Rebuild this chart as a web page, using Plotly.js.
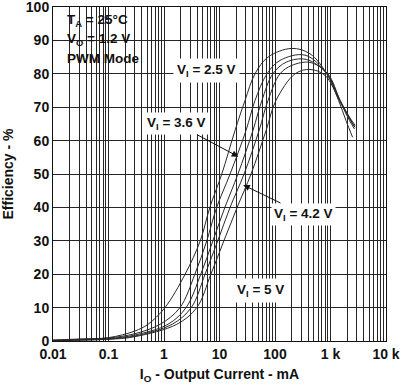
<!DOCTYPE html>
<html>
<head>
<meta charset="utf-8">
<script src="https://cdn.plot.ly/plotly-3.0.1.min.js"></script>
<style>
html,body{margin:0;padding:0;background:#fff;}
#chart{width:406px;height:390px;}
</style>
</head>
<body>
<div id="chart"></div>
<script>
// Series: output current (mA) and efficiency (%)
const seriesNames = ["VI = 2.5 V", "VI = 3.0 V", "VI = 3.6 V", "VI = 4.2 V", "VI = 5 V"];

const current1 = [0.01, 0.03, 0.1, 0.3, 0.515, 1.04, 2.4, 4.5, 6.7, 11, 19, 28.8, 43.6, 75, 200, 427, 860, 1400, 1900, 2500];
const eff1     = [0.3, 0.6, 1.0, 3.0, 5, 10, 20, 30, 40, 50, 63, 72, 80, 85, 87.6, 86, 80, 72, 66, 61];

const current2 = [0.01, 0.03, 0.1, 0.3, 0.85, 1.94, 3.6, 5.9, 8.9, 15.5, 30, 43.6, 71.8, 123, 347, 860, 1460, 2200, 2700];
const eff2     = [0.2, 0.5, 0.9, 2.2, 5, 10, 20, 30, 40, 50, 63, 72, 80, 84, 85.6, 80, 72, 66, 63.5];

const current3 = [0.01, 0.03, 0.1, 0.3, 1.18, 2.5, 4.6, 7.6, 12.5, 21.5, 40, 58, 91.5, 160, 365, 870, 1480, 2300, 2750];
const eff3     = [0.15, 0.4, 0.7, 1.8, 5, 10, 20, 30, 40, 50, 63, 72, 80, 83.5, 84.3, 80, 72, 66, 64];

const current4 = [0.01, 0.03, 0.1, 0.3, 1.4, 3.1, 5.5, 9.3, 15.5, 27.7, 51.6, 74.8, 123, 200, 427, 895, 1500, 2300, 2800];
const eff4     = [0.1, 0.3, 0.6, 1.5, 5, 10, 20, 30, 40, 50, 63, 72, 80, 82.5, 83.4, 80, 72, 66.5, 64.5];

const current5 = [0.01, 0.03, 0.1, 0.3, 1.7, 3.9, 7, 12, 20.8, 37, 69, 104, 230, 427, 800, 1450, 2250, 2750];
const eff5     = [0.1, 0.25, 0.5, 1.3, 5, 10, 20, 30, 40, 50, 63, 72, 80, 81.3, 79.5, 72, 66.5, 64];

// Axis ticks
const xDecades = [0.01, 0.1, 1, 10, 100, 1000, 10000];
const xDecadeLabels = ["0.01", "0.1", "1", "10", "100", "1 k", "10 k"];
const yTicks = [0, 10, 20, 30, 40, 50, 60, 70, 80, 90, 100];

// build log tick list (all 1..9 multiples), labels only at decades
const xTickVals = [], xTickText = [];
xDecades.forEach((d, i) => {
  if (i === xDecades.length - 1) { xTickVals.push(d); xTickText.push(xDecadeLabels[i]); return; }
  for (let m = 1; m <= 9; m++) {
    xTickVals.push(+(d * m).toPrecision(6));
    xTickText.push(m === 1 ? xDecadeLabels[i] : "");
  }
});

const xs = [current1, current2, current3, current4, current5];
const ys = [eff1, eff2, eff3, eff4, eff5];
const traces = xs.map((x, i) => ({
  x: x, y: ys[i], name: seriesNames[i], type: "scatter", mode: "lines",
  line: {color: "#2a2a2a", width: 1, shape: "spline", smoothing: 1},
  hoverinfo: "skip"
}));

const F = "Liberation Sans, Arial, sans-serif";
const gridCol = "#262626";
const lab = {family: F, size: 13.5, color: "#111", weight: "bold"};

const layout = {
  width: 406, height: 390,
  margin: {l: 53, r: 20, t: 7, b: 49},
  paper_bgcolor: "#fff", plot_bgcolor: "#fff",
  showlegend: false,
  font: {family: F, size: 14, color: "#111"},
  xaxis: {
    type: "log", range: [-2, 4],
    tickmode: "array", tickvals: xTickVals, ticktext: xTickText,
    showgrid: true, gridcolor: gridCol, gridwidth: 1,
    ticks: "inside", ticklen: 4, tickcolor: "#222", tickwidth: 1,
    showline: true, linecolor: "#111", linewidth: 1, mirror: "ticks",
    zeroline: false, ticklabeloverflow: "allow",
    tickfont: {family: F, size: 14, color: "#111", weight: "bold"},
    title: {text: "I<sub>O</sub> - Output Current - mA", font: {family: F, size: 14, color: "#111", weight: "bold"}, standoff: 8}
  },
  yaxis: {
    range: [0, 100], tickmode: "array", tickvals: yTicks,
    showgrid: true, gridcolor: gridCol, gridwidth: 1,
    ticks: "inside", ticklen: 6, tickcolor: "#222", tickwidth: 1,
    showline: true, linecolor: "#111", linewidth: 1, mirror: "ticks",
    zeroline: false, ticklabeloverflow: "allow",
    tickfont: {family: F, size: 14, color: "#111", weight: "bold"},
    title: {text: "Efficiency - %", font: {family: F, size: 14, color: "#111", weight: "bold"}, standoff: 10}
  },
  shapes: [
    {type: "rect", xref: "paper", yref: "paper", x0: 0.0, x1: 0.328, y0: 0.80, y1: 1.0,
     fillcolor: "#fff", line: {width: 0}, layer: "between"}
  ],
  annotations: [
    {xref: "paper", yref: "paper", x: 0.036, y: 0.96, xanchor: "left", yanchor: "middle",
     text: "T<sub>A</sub> = 25°C", showarrow: false, font: lab},
    {xref: "paper", yref: "paper", x: 0.036, y: 0.903, xanchor: "left", yanchor: "middle",
     text: "V<sub>O</sub> = 1.2 V", showarrow: false, font: lab},
    {xref: "paper", yref: "paper", x: 0.036, y: 0.846, xanchor: "left", yanchor: "middle",
     text: "PWM Mode", showarrow: false, font: lab},
    {xref: "paper", yref: "paper", x: 0.46, y: 0.81, xanchor: "center", yanchor: "middle",
     text: "V<sub>I</sub> = 2.5 V", showarrow: false,
     bgcolor: "#fff", borderpad: 3, font: lab},
    {xref: "x", yref: "y", x: Math.log10(21.8), y: 55.2, ax: -62, ay: -33, text: "V<sub>I</sub> = 3.6 V",
     showarrow: true, arrowhead: 2, arrowsize: 1.3, arrowwidth: 1, arrowcolor: "#111",
     bgcolor: "#fff", borderpad: 2, font: lab},
    {xref: "x", yref: "y", x: Math.log10(26.8), y: 46.7, ax: 60, ay: 29, text: "V<sub>I</sub> = 4.2 V",
     showarrow: true, arrowhead: 2, arrowsize: 1.3, arrowwidth: 1, arrowcolor: "#111",
     bgcolor: "#fff", borderpad: 2, font: lab},
    {xref: "paper", yref: "paper", x: 0.622, y: 0.15, xanchor: "center", yanchor: "middle",
     text: "V<sub>I</sub> = 5 V", showarrow: false,
     bgcolor: "#fff", borderpad: 3, font: lab}
  ]
};

Plotly.newPlot("chart", traces, layout, {staticPlot: true, displayModeBar: false});
</script>
</body>
</html>
